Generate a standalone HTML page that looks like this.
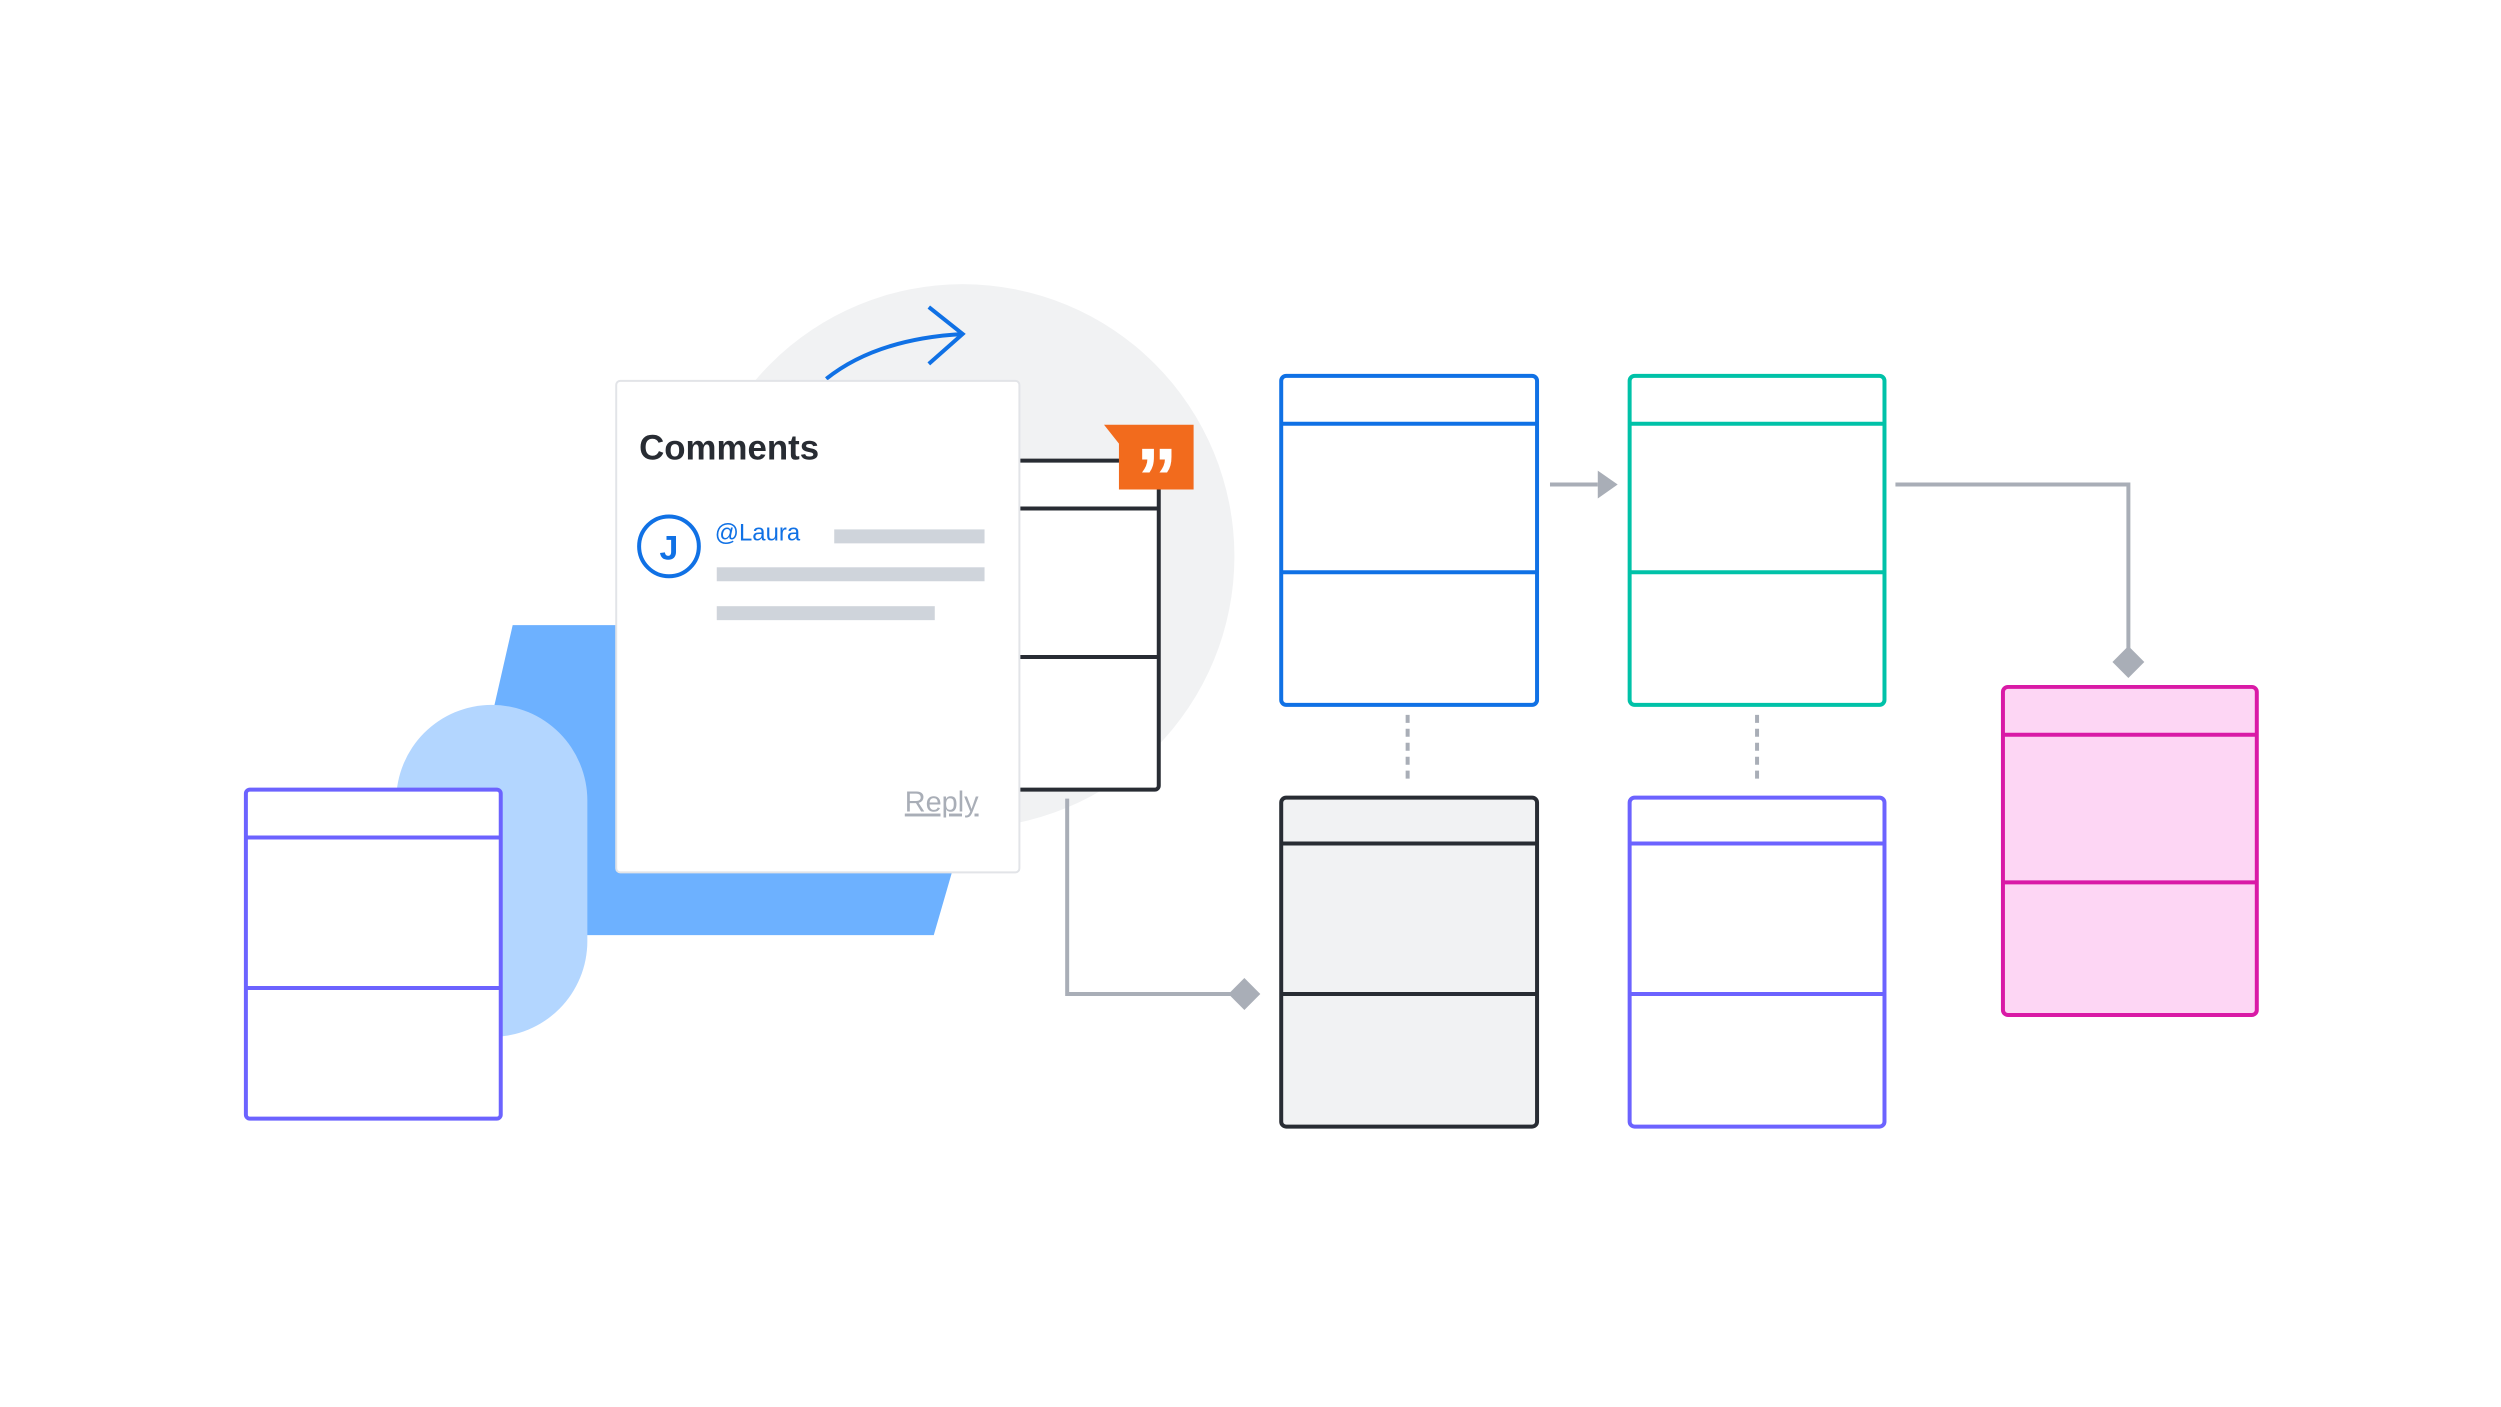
<!DOCTYPE html>
<html><head><meta charset="utf-8"><style>
html,body{margin:0;padding:0;background:#fff;}
svg{display:block;}
text{font-family:"Liberation Sans",sans-serif;}
</style></head><body>
<svg width="2501" height="1407" viewBox="0 0 2501 1407" xmlns="http://www.w3.org/2000/svg">
<rect width="2501" height="1407" fill="#fff"/>
<g transform="scale(0.9955,0.997)">
<!-- gray circle -->
<circle cx="967" cy="558" r="273" fill="#f1f2f3"/>
<!-- blue shape -->
<polygon points="515,627 1028,627 938,938 444,938" fill="#6db1ff"/>
<!-- light blue pill -->
<rect x="398" y="707" width="192" height="333" rx="96" fill="#b3d6ff"/>
<!-- left purple table -->
<g fill="#fff" stroke="#6c63ff" stroke-width="4">
<rect x="247" y="792" width="256" height="330" rx="4"/>
<line x1="247" y1="840" x2="503" y2="840"/><line x1="247" y1="991" x2="503" y2="991"/>
</g>
<!-- dark table behind card -->
<g fill="#fff" stroke="#282c33" stroke-width="4">
<path d="M1000 462 H1164 V788 a4 4 0 0 1 -4 4 H1000 Z"/>
<line x1="1000" y1="510" x2="1164" y2="510"/><line x1="1000" y1="659" x2="1164" y2="659"/>
</g>
<!-- orange tag -->
<polygon points="1109,426 1199,426 1199,491 1124,491 1124,445" fill="#f26b1d"/>
<text x="1162" y="508" font-size="84" font-weight="bold" fill="#fff" text-anchor="middle">”</text>
<!-- blue curve arrow -->
<path d="M830 380 Q880 340 967 335" fill="none" stroke="#1071e5" stroke-width="4"/>
<polyline points="933,308 967,335 933,365" fill="none" stroke="#1071e5" stroke-width="4"/>
<!-- card -->
<rect x="619" y="382" width="405" height="493" rx="4" fill="#fff" stroke="#e2e4e8" stroke-width="2"/>
<text x="642" y="461" font-size="35" font-weight="bold" fill="#282c33">Comments</text>
<circle cx="672" cy="548" r="30" fill="none" stroke="#1071e5" stroke-width="4"/>
<text x="672" y="561" font-size="34" font-weight="bold" fill="#1071e5" text-anchor="middle">J</text>
<text x="718" y="542" font-size="24" fill="#1071e5">@Laura</text>
<rect x="838" y="531" width="151" height="14" fill="#cfd4db"/>
<rect x="720" y="569" width="269" height="14" fill="#cfd4db"/>
<rect x="720" y="608" width="219" height="14" fill="#cfd4db"/>
<text x="983" y="814" font-size="29" fill="#a9aeb7" text-anchor="end" text-decoration="underline">Reply</text>
<!-- gray connector to black box -->
<polyline points="1072,801 1072,997 1238,997" fill="none" stroke="#a9aeb7" stroke-width="4"/>
<polygon points="1250,981 1266,997 1250,1013 1234,997" fill="#a9aeb7"/>
<!-- blue box -->
<g fill="#fff" stroke="#1071e5" stroke-width="4">
<rect x="1287" y="377" width="257" height="330" rx="5"/>
<line x1="1287" y1="425" x2="1544" y2="425"/><line x1="1287" y1="574" x2="1544" y2="574"/>
</g>
<!-- teal box -->
<g fill="#fff" stroke="#00c2a8" stroke-width="4">
<rect x="1637" y="377" width="256" height="330" rx="5"/>
<line x1="1637" y1="425" x2="1893" y2="425"/><line x1="1637" y1="574" x2="1893" y2="574"/>
</g>
<!-- black box -->
<g fill="#f1f2f3" stroke="#282c33" stroke-width="4">
<rect x="1287" y="800" width="257" height="330" rx="5"/>
<line x1="1287" y1="846" x2="1544" y2="846"/><line x1="1287" y1="997" x2="1544" y2="997"/>
</g>
<!-- purple box -->
<g fill="#fff" stroke="#6c63ff" stroke-width="4">
<rect x="1637" y="800" width="256" height="330" rx="5"/>
<line x1="1637" y1="846" x2="1893" y2="846"/><line x1="1637" y1="997" x2="1893" y2="997"/>
</g>
<!-- pink box -->
<g fill="#fdd6f4" stroke="#d91aa6" stroke-width="4">
<rect x="2012" y="689" width="255" height="329" rx="5"/>
<line x1="2012" y1="737" x2="2267" y2="737"/><line x1="2012" y1="885" x2="2267" y2="885"/>
</g>
<!-- connectors -->
<line x1="1557" y1="486" x2="1605" y2="486" stroke="#a9aeb7" stroke-width="4"/>
<polygon points="1605,472 1625,486 1605,500" fill="#a9aeb7"/>
<polyline points="1904,486 2138,486 2138,650" fill="none" stroke="#a9aeb7" stroke-width="4"/>
<polygon points="2138,648 2154,664 2138,680 2122,664" fill="#a9aeb7"/>
<line x1="1414" y1="717" x2="1414" y2="785" stroke="#a9aeb7" stroke-width="4" stroke-dasharray="8,6"/>
<line x1="1765" y1="717" x2="1765" y2="785" stroke="#a9aeb7" stroke-width="4" stroke-dasharray="8,6"/>
</g>
</svg>
</body></html>
